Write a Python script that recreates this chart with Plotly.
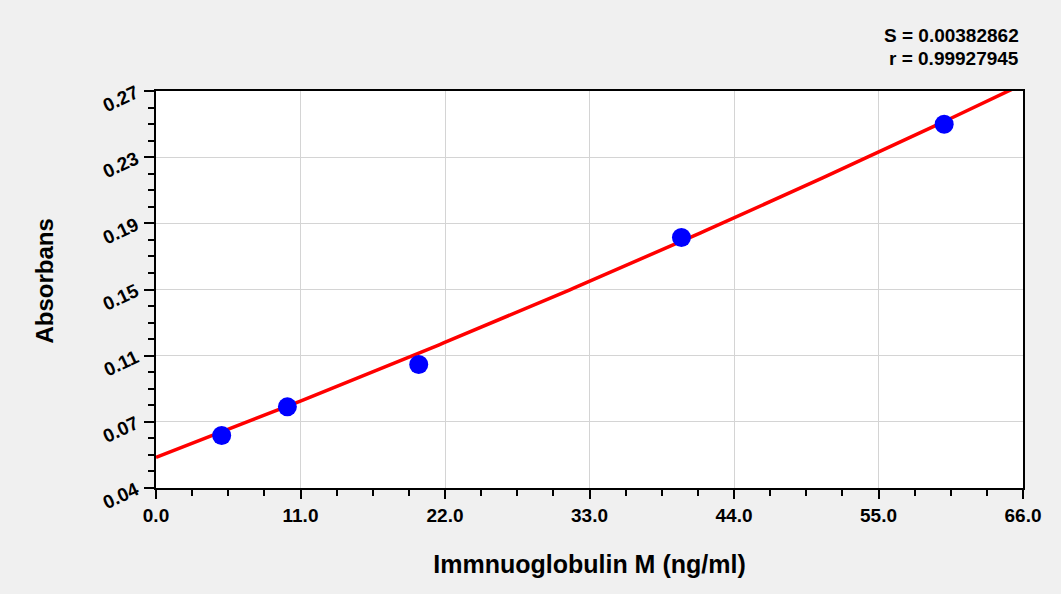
import numpy as np
import plotly.graph_objects as go

# Standard points
conc = [5, 10, 20, 40, 60]
absorb = [0.0704, 0.0870, 0.1115, 0.1851, 0.2507]

# Fitted curve coefficients (y = a + b*x + c*x^2)
fit_coef = [0.0578, 0.0029, 0.0000057]

# Axis settings
x_range = [0, 66]
x_dtick = 11
y_range = [0.04, 0.27]
y_ticktext = ["0.04", "0.07", "0.11", "0.15", "0.19", "0.23", "0.27"]

stats_text = ["S = 0.00382862", "r = 0.99927945"]
x_title = "Immnuoglobulin M (ng/ml)"
y_title = "Absorbans"

n_major = len(y_ticktext) - 1
y_step = (y_range[1] - y_range[0]) / n_major
y_tickvals = [y_range[0] + i * y_step for i in range(n_major + 1)]

xc = np.linspace(0, 66, 200)
yc = fit_coef[0] + fit_coef[1] * xc + fit_coef[2] * xc ** 2

font_family = "Liberation Sans, Arial, sans-serif"

fig = go.Figure()
fig.add_trace(go.Scatter(x=xc, y=yc, mode="lines",
                         line=dict(color="#ff0000", width=3.5),
                         showlegend=False, hoverinfo="skip"))
fig.add_trace(go.Scatter(x=conc, y=absorb, mode="markers",
                         marker=dict(color="#0000ff", size=19, line=dict(width=0)),
                         showlegend=False))

fig.update_layout(
    width=1061, height=594,
    paper_bgcolor="#f0f0f0", plot_bgcolor="#ffffff",
    margin=dict(l=156, r=38, t=91, b=106),
    font=dict(family=font_family, size=19, color="#000000", weight="bold"),
)

fig.update_xaxes(
    range=x_range, tickmode="linear", tick0=0, dtick=x_dtick, tickformat=".1f",
    showline=True, linecolor="black", linewidth=2, mirror=True,
    ticks="outside", ticklen=9, tickwidth=2, tickcolor="black",
    showgrid=True, gridcolor="#d4d4d4", gridwidth=1, zeroline=False,
    minor=dict(tickmode="linear", tick0=0, dtick=x_dtick / 4, ticks="outside",
               ticklen=6, tickwidth=2, tickcolor="black", showgrid=False),
    tickfont=dict(size=19, family=font_family, weight="bold"),
    title=dict(text=x_title, standoff=31,
               font=dict(size=25, family=font_family, weight="bold")),
)

fig.update_yaxes(
    range=y_range, tickmode="array", tickvals=y_tickvals, ticktext=y_ticktext,
    tickangle=-25, ticklabelstandoff=4,
    showline=True, linecolor="black", linewidth=2, mirror=True,
    ticks="outside", ticklen=10, tickwidth=2, tickcolor="black",
    showgrid=True, gridcolor="#d4d4d4", gridwidth=1, zeroline=False,
    minor=dict(tickmode="linear", tick0=y_range[0], dtick=y_step / 4, ticks="outside",
               ticklen=6, tickwidth=2, tickcolor="black", showgrid=False),
    tickfont=dict(size=19, family=font_family, weight="bold"),
)

# y-axis title placed as a rotated annotation
fig.add_annotation(text=y_title, xref="paper", yref="paper",
                   x=-0.128, y=0.52, xanchor="center", yanchor="middle",
                   textangle=-90, showarrow=False,
                   font=dict(size=24, family=font_family, weight="bold"))

for i, t in enumerate(stats_text):
    fig.add_annotation(text=t, xref="paper", yref="paper",
                       x=0.998, y=1.141 - i * 0.058, xanchor="right", yanchor="middle",
                       showarrow=False,
                       font=dict(size=19, family=font_family, weight="bold"))

fig.write_html("out.html", config={"displayModeBar": False},
               post_script="document.body.style.margin='0';document.body.style.padding='0';")
